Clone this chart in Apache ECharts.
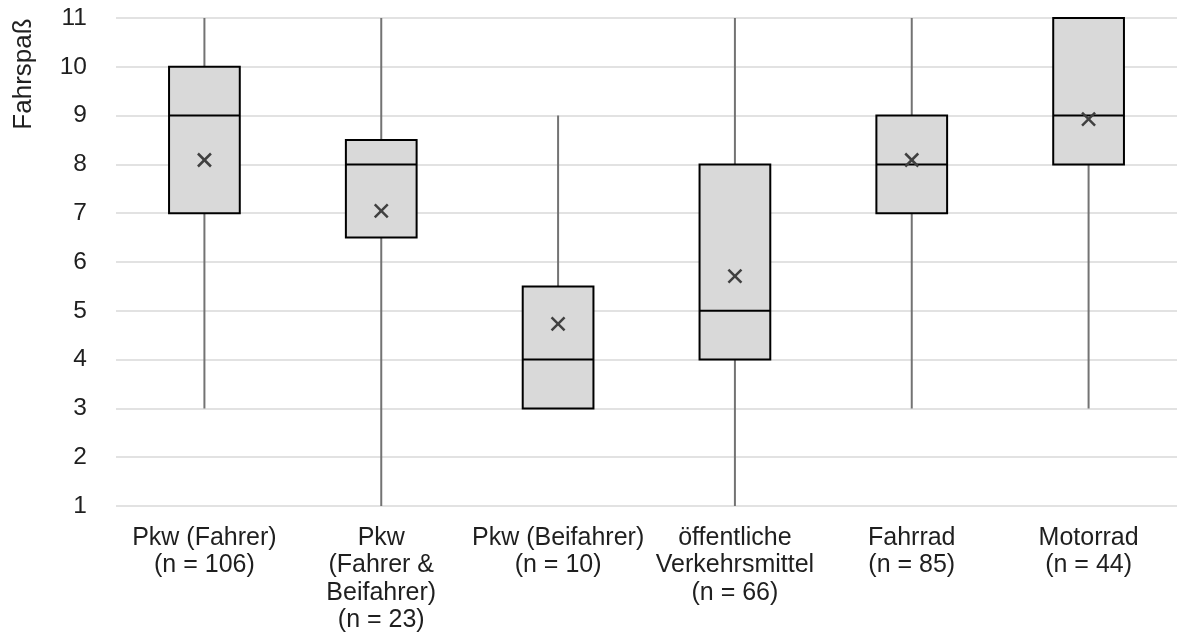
<!DOCTYPE html>
<html>
<head>
<meta charset="utf-8">
<script src="https://cdn.jsdelivr.net/npm/echarts@6/dist/echarts.min.js"></script>
<style>
  html, body { margin: 0; padding: 0; background: #fff; }
  #chart { width: 1177px; height: 638px; }
</style>
</head>
<body>
<div id="chart"></div>
<script>
// Kategorien (x-Achse)
const categories = [
  'Pkw (Fahrer)\n(n = 106)',
  'Pkw\n(Fahrer &\nBeifahrer)\n(n = 23)',
  'Pkw (Beifahrer)\n(n = 10)',
  'öffentliche\nVerkehrsmittel\n(n = 66)',
  'Fahrrad\n(n = 85)',
  'Motorrad\n(n = 44)'
];
// Kennwerte je Box
const minVals    = [3, 1, 3, 1, 3, 3];
const q1Vals     = [7, 6.5, 3, 4, 7, 8];
const medianVals = [9, 8, 4, 5, 8, 9];
const q3Vals     = [10, 8.5, 5.5, 8, 9, 11];
const maxVals    = [11, 11, 9, 11, 11, 11];
const meanVals   = [8.09, 7.05, 4.73, 5.71, 8.09, 8.93];
// y-Achse
const yTicks = [1, 2, 3, 4, 5, 6, 7, 8, 9, 10, 11];

const chart = echarts.init(document.getElementById('chart'));

const boxData = categories.map((c, i) => [
  i, minVals[i], q1Vals[i], medianVals[i], q3Vals[i], maxVals[i], meanVals[i]
]);

function renderBox(params, api) {
  const idx = api.value(0);
  const pMin = api.coord([idx, api.value(1)]);
  const pQ1 = api.coord([idx, api.value(2)]);
  const pMed = api.coord([idx, api.value(3)]);
  const pQ3 = api.coord([idx, api.value(4)]);
  const pMax = api.coord([idx, api.value(5)]);
  const pMean = api.coord([idx, api.value(6)]);
  const band = api.size([1, 0])[0];
  const w = band * 0.4;
  const cx = pMed[0];
  const m = 6.5;
  return {
    type: 'group',
    children: [
      { // Whisker
        type: 'line',
        shape: { x1: cx, y1: pMax[1], x2: cx, y2: pMin[1] },
        style: { stroke: '#737373', lineWidth: 2 }
      },
      { // Box
        type: 'rect',
        shape: { x: cx - w / 2, y: pQ3[1], width: w, height: pQ1[1] - pQ3[1] },
        style: { fill: '#d9d9d9', stroke: '#000', lineWidth: 2 }
      },
      { // Median
        type: 'line',
        shape: { x1: cx - w / 2, y1: pMed[1], x2: cx + w / 2, y2: pMed[1] },
        style: { stroke: '#000', lineWidth: 2 }
      },
      { // Mittelwert (x)
        type: 'line',
        shape: { x1: cx - m, y1: pMean[1] - m, x2: cx + m, y2: pMean[1] + m },
        style: { stroke: '#404040', lineWidth: 2.5 }
      },
      {
        type: 'line',
        shape: { x1: cx - m, y1: pMean[1] + m, x2: cx + m, y2: pMean[1] - m },
        style: { stroke: '#404040', lineWidth: 2.5 }
      }
    ]
  };
}

const option = {
  animation: false,
  textStyle: { fontFamily: 'Liberation Sans, Arial, sans-serif' },
  grid: { left: 116, top: 18, width: 1068, height: 488, containLabel: false },
  xAxis: {
    type: 'category',
    data: categories,
    axisLine: { show: false },
    axisTick: { show: false },
    axisLabel: {
      interval: 0,
      margin: 18,
      fontSize: 25,
      lineHeight: 27.5,
      color: '#1f1f1f',
      fontFamily: 'Liberation Sans'
    }
  },
  yAxis: {
    type: 'value',
    min: yTicks[0],
    max: yTicks[yTicks.length - 1],
    interval: 1,
    axisLine: { show: false },
    axisTick: { show: false },
    axisLabel: { margin: 29, fontSize: 24.5, color: '#1f1f1f', fontFamily: 'Liberation Sans' },
    splitLine: { lineStyle: { color: '#d9d9d9', width: 1.5 } }
  },
  graphic: [{
    type: 'text',
    x: 24,
    y: 74,
    rotation: Math.PI / 2,
    style: {
      text: 'Fahrspaß',
      fontSize: 26,
      fontFamily: 'Liberation Sans',
      fill: '#1f1f1f',
      align: 'center',
      verticalAlign: 'middle'
    }
  }],
  series: [{
    type: 'custom',
    renderItem: renderBox,
    encode: { x: 0, y: [1, 2, 3, 4, 5, 6] },
    data: boxData
  }]
};

chart.setOption(option);
</script>
</body>
</html>
